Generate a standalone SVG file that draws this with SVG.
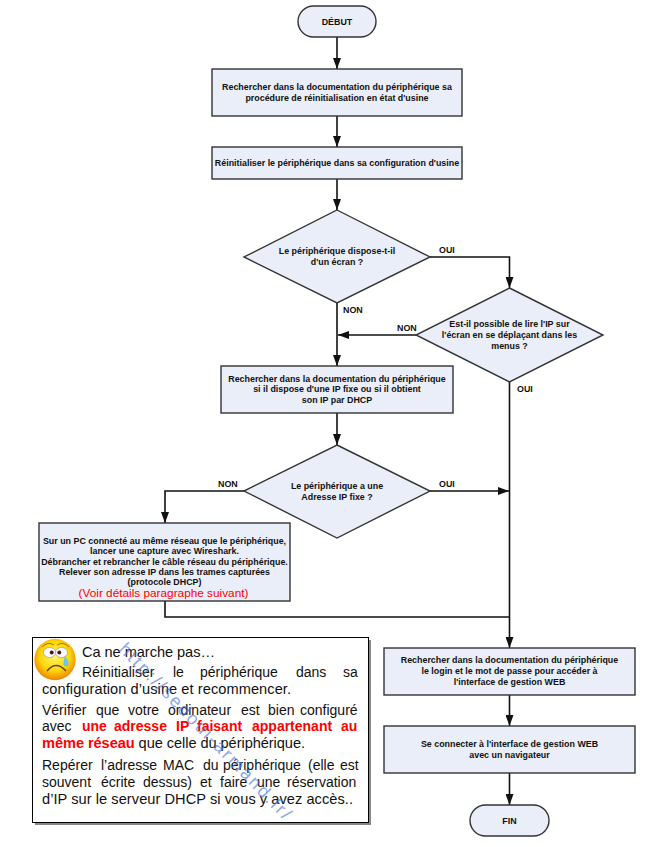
<svg xmlns="http://www.w3.org/2000/svg" width="647" height="847" viewBox="0 0 647 847">
<style>
.n{fill:#e9eef8;stroke:#333;stroke-width:1.4}
.t{font:bold 8.9px "Liberation Sans",Arial,sans-serif;fill:#111;text-anchor:middle}
.l{font:bold 8.9px "Liberation Sans",Arial,sans-serif;fill:#111}
.c{fill:none;stroke:#111;stroke-width:1.6}
.b{font:14.6px "Liberation Sans",Arial,sans-serif;fill:#111}
.j{font-size:14px}
.r{font-weight:bold;fill:#f00}
</style>
<defs>
<marker id="a" markerUnits="userSpaceOnUse" markerWidth="11" markerHeight="8" refX="11" refY="4" orient="auto" viewBox="0 0 11 8"><path d="M0 0L11 4L0 8z" fill="#111"/></marker>
<radialGradient id="f" cx=".5" cy=".42" r=".58"><stop offset="0" stop-color="#fff46a"/><stop offset=".6" stop-color="#fcd80a"/><stop offset="1" stop-color="#ee8400"/></radialGradient>
</defs>
<rect width="647" height="847" fill="#fff"/>
<g id="connectors">
<path class="c" marker-end="url(#a)" d="M337 37V69"/>
<path class="c" marker-end="url(#a)" d="M337 116V147"/>
<path class="c" marker-end="url(#a)" d="M337 179V210"/>
<path class="c" marker-end="url(#a)" d="M337 303V366"/>
<path class="c" marker-end="url(#a)" d="M430 257H509.500V288"/>
<path class="c" marker-end="url(#a)" d="M416 335H338"/>
<path class="c" marker-end="url(#a)" d="M337 413V445"/>
<path class="c" marker-end="url(#a)" d="M430 491H509"/>
<path class="c" marker-end="url(#a)" d="M244 491H165V523"/>
<path class="c" marker-end="url(#a)" d="M509.500 382V648"/>
<path class="c" d="M165 601V617H509.500"/>
<path class="c" marker-end="url(#a)" d="M509.500 695V726"/>
<path class="c" marker-end="url(#a)" d="M509.500 773V805"/>
</g>
<g id="start"><rect class="n" x="298" y="6" width="78" height="31" rx="15.500"/><text class="t" x="337" y="25">DÉBUT</text></g>
<g id="doc-reset"><rect class="n" x="212" y="69" width="250" height="47"/><text class="t" x="337" y="90">Rechercher dans la documentation du périphérique sa</text><text class="t" x="337" y="101">procédure de réinitialisation en état d'usine</text></g>
<g id="reset"><rect class="n" x="212" y="147" width="250" height="32"/><text class="t" x="337" y="166">Réinitialiser le périphérique dans sa configuration d'usine</text></g>
<g id="has-screen"><path class="n" d="M337 210L430 257L337 303L244 257z"/><text class="t" x="337" y="254">Le périphérique dispose-t-il</text><text class="t" x="337" y="265">d'un écran ?</text></g>
<g id="read-ip"><path class="n" d="M509.500 288L603 335L509.500 382L416 335z"/><text class="t" x="509.500" y="327">Est-il possible de lire l'IP sur</text><text class="t" x="509.500" y="338">l'écran en se déplaçant dans les</text><text class="t" x="509.500" y="349">menus ?</text></g>
<g id="doc-ip"><rect class="n" x="221" y="366" width="232" height="47"/><text class="t" x="337" y="382">Rechercher dans la documentation du périphérique</text><text class="t" x="337" y="392">si il dispose d'une IP fixe ou si il obtient</text><text class="t" x="337" y="403">son IP par DHCP</text></g>
<g id="fixed-ip"><path class="n" d="M337 445L430 491L337 538L244 491z"/><text class="t" x="337" y="489">Le périphérique a une</text><text class="t" x="337" y="500">Adresse IP fixe ?</text></g>
<g id="wireshark"><rect class="n" x="39" y="523" width="251" height="78"/><text class="t" x="164.500" y="544">Sur un PC connecté au même réseau que le périphérique,</text><text class="t" x="164.500" y="554">lancer une capture avec Wireshark.</text><text class="t" x="164.500" y="565">Débrancher et rebrancher le câble réseau du périphérique.</text><text class="t" x="164.500" y="575">Relever son adresse IP dans les trames capturées</text><text class="t" x="164.500" y="584.600">(protocole DHCP)</text><text x="163.500" y="597" text-anchor="middle" font-family="Liberation Sans,Arial,sans-serif" font-size="11.800" fill="#f00">(Voir détails paragraphe suivant)</text></g>
<g id="doc-login"><rect class="n" x="384" y="648" width="251" height="47"/><text class="t" x="509.500" y="663">Rechercher dans la documentation du périphérique</text><text class="t" x="509.500" y="674">le login et le mot de passe pour accéder à</text><text class="t" x="509.500" y="685">l'interface de gestion WEB</text></g>
<g id="connect"><rect class="n" x="384" y="726" width="251" height="47"/><text class="t" x="509.500" y="747">Se connecter à l'interface de gestion WEB</text><text class="t" x="509.500" y="758">avec un navigateur</text></g>
<g id="end"><rect class="n" x="470" y="805" width="79" height="31" rx="15.500"/><text class="t" x="509.500" y="824">FIN</text></g>
<g id="labels">
<text class="l" x="439" y="253">OUI</text><text class="l" x="343" y="313">NON</text><text class="l" x="397" y="331">NON</text><text class="l" x="517" y="392">OUI</text><text class="l" x="218" y="487">NON</text><text class="l" x="439" y="487">OUI</text>
</g>
<g id="note">
<rect x="35" y="640" width="336" height="185" fill="#888"/>
<rect x="32.500" y="637.500" width="336" height="185" fill="#fff" stroke="#000" stroke-width="1"/>
<g id="smiley"><circle cx="55" cy="659.500" r="20.700" fill="url(#f)"/><ellipse cx="49.500" cy="652.500" rx="6" ry="5" fill="#fff" stroke="#889" stroke-width=".6"/><ellipse cx="61.500" cy="652.500" rx="6" ry="5" fill="#fff" stroke="#889" stroke-width=".6"/><circle cx="51.700" cy="652.500" r="2" fill="#512"/><circle cx="59.300" cy="652.500" r="2" fill="#512"/><path d="M42 647Q48 641 54 645M57 645Q63 641 69 647" fill="none" stroke="#a70" stroke-width="1"/><path d="M47 671Q56 660 66 671" fill="none" stroke="#642" stroke-width="1.400"/><path d="M65 656Q69 661 68.500 664A2.500 2.500 0 0 1 63.500 663.500Q63.500 660 65 656z" fill="#6cc4e8"/></g>
<text class="b" x="82" y="657" textLength="133">Ca ne marche pas…</text>
<text class="b j" y="677"><tspan x="82">Réinitialiser</tspan> <tspan x="173">le</tspan> <tspan x="200">périphérique</tspan> <tspan x="296">dans</tspan> <tspan x="343">sa</tspan></text>
<text class="b" x="42" y="694" textLength="249">configuration d’usine et recommencer.</text>
<text class="b j" y="715"><tspan x="42">Vérifier</tspan> <tspan x="96">que</tspan> <tspan x="128">votre</tspan> <tspan x="168">ordinateur</tspan> <tspan x="241">est</tspan> <tspan x="268">bien</tspan> <tspan x="300">configuré</tspan></text>
<text class="b j" y="731"><tspan x="42">avec</tspan> <tspan x="82" class="r">une</tspan> <tspan x="114" class="r">adresse</tspan> <tspan x="176" class="r">IP</tspan> <tspan x="197" class="r">faisant</tspan> <tspan x="252" class="r">appartenant</tspan> <tspan x="341" class="r">au</tspan></text>
<text class="b" x="42" y="748" textLength="263"><tspan class="r">même réseau</tspan> que celle du périphérique.</text>
<text class="b j" y="770"><tspan x="42">Repérer</tspan> <tspan x="101">l’adresse</tspan> <tspan x="163">MAC</tspan> <tspan x="203">du</tspan> <tspan x="223">périphérique</tspan> <tspan x="308">(elle</tspan> <tspan x="340">est</tspan></text>
<text class="b j" y="787"><tspan x="42">souvent</tspan> <tspan x="101">écrite</tspan> <tspan x="143">dessus)</tspan> <tspan x="200">et</tspan> <tspan x="220">faire</tspan> <tspan x="257">une</tspan> <tspan x="287">réservation</tspan></text>
<text class="b" x="42" y="804" textLength="311">d’IP sur le serveur DHCP si vous y avez accès..</text>
<text x="118" y="650" transform="rotate(45.800 118 650)" font-family="Liberation Sans,Arial,sans-serif" font-size="18" fill="#4a74d8" fill-opacity=".65" textLength="238">http://sedoui-armand.fr/</text>
</g>
</svg>
